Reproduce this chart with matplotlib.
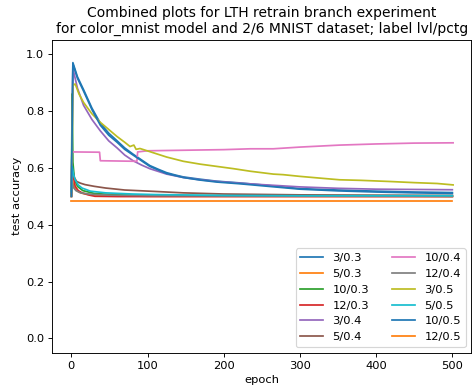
import matplotlib
matplotlib.use("Agg")
import matplotlib.pyplot as plt

labels = ["3/0.3", "5/0.3", "10/0.3", "12/0.3", "3/0.4", "5/0.4",
          "10/0.4", "12/0.4", "3/0.5", "5/0.5", "10/0.5", "12/0.5"]

ep_3_03 = [0, 2, 8, 16, 27, 38, 49, 60, 70, 81, 92, 103, 114, 125, 136, 147, 169, 191, 221, 250, 300, 350, 400, 450, 500]
acc_3_03 = [0.52, 0.97, 0.92, 0.875, 0.81, 0.757, 0.722, 0.695, 0.67, 0.648, 0.628, 0.608, 0.595, 0.583, 0.575, 0.568, 0.56, 0.553, 0.547, 0.54, 0.527, 0.522, 0.518, 0.515, 0.513]

ep_5_03 = [0, 1, 3, 6, 10, 15, 30, 60, 100, 500]
acc_5_03 = [0.5, 0.56, 0.535, 0.522, 0.515, 0.51, 0.505, 0.502, 0.5, 0.5]

ep_10_03 = [0, 1, 2, 4, 8, 15, 30, 60, 100, 200, 300, 400, 500]
acc_10_03 = [0.5, 0.86, 0.62, 0.56, 0.535, 0.52, 0.51, 0.505, 0.503, 0.502, 0.501, 0.501, 0.5]

ep_12_03 = [0, 1, 3, 5, 9, 14, 22, 31, 60, 100, 200, 500]
acc_12_03 = [0.5, 0.58, 0.564, 0.535, 0.52, 0.512, 0.505, 0.5, 0.499, 0.499, 0.499, 0.499]

ep_3_04 = [0, 2, 8, 16, 27, 38, 49, 60, 70, 81, 92, 103, 125, 147, 169, 191, 221, 250, 300, 350, 400, 450, 500]
acc_3_04 = [0.5, 0.95, 0.88, 0.82, 0.77, 0.73, 0.695, 0.67, 0.645, 0.625, 0.61, 0.597, 0.578, 0.566, 0.558, 0.552, 0.546, 0.541, 0.533, 0.528, 0.525, 0.524, 0.523]

ep_5_04 = [0, 1, 4, 7, 12, 18, 30, 45, 70, 110, 147, 200, 300, 400, 500]
acc_5_04 = [0.5, 0.6, 0.565, 0.552, 0.546, 0.541, 0.535, 0.529, 0.522, 0.517, 0.512, 0.508, 0.505, 0.504, 0.503]

ep_10_04 = [0, 1, 37, 38, 86, 87, 100, 150, 200, 235, 265, 300, 352, 400, 450, 501]
acc_10_04 = [0.5, 0.656, 0.655, 0.625, 0.623, 0.656, 0.66, 0.662, 0.664, 0.667, 0.667, 0.673, 0.68, 0.684, 0.687, 0.688]

ep_12_04 = [0, 1, 3, 6, 12, 25, 50, 100, 200, 500]
acc_12_04 = [0.5, 0.55, 0.53, 0.52, 0.512, 0.507, 0.504, 0.502, 0.501, 0.5]

ep_3_05 = [0, 2, 5, 10, 16, 27, 38, 49, 60, 70, 77, 82, 85, 90, 103, 125, 147, 169, 191, 213, 235, 265, 278, 300, 330, 352, 380, 418, 450, 480, 501]
acc_3_05 = [0.5, 0.89, 0.895, 0.86, 0.83, 0.79, 0.76, 0.735, 0.71, 0.69, 0.675, 0.68, 0.665, 0.668, 0.657, 0.638, 0.623, 0.613, 0.605, 0.597, 0.588, 0.578, 0.576, 0.57, 0.563, 0.558, 0.556, 0.552, 0.548, 0.545, 0.54]

ep_5_05 = [0, 1, 3, 5, 9, 14, 25, 45, 80, 110, 200, 300, 400, 500]
acc_5_05 = [0.517, 0.605, 0.575, 0.558, 0.54, 0.529, 0.518, 0.512, 0.508, 0.506, 0.503, 0.502, 0.502, 0.502]

ep_10_05 = [0, 2, 8, 16, 27, 38, 49, 60, 70, 81, 92, 103, 125, 147, 169, 191, 221, 250, 300, 350, 400, 450, 500]
acc_10_05 = [0.5, 0.965, 0.915, 0.87, 0.805, 0.75, 0.715, 0.69, 0.665, 0.645, 0.625, 0.605, 0.58, 0.566, 0.557, 0.55, 0.544, 0.537, 0.525, 0.519, 0.515, 0.512, 0.51]

ep_12_05 = [0, 500]
acc_12_05 = [0.482, 0.482]

series = [(ep_3_03, acc_3_03), (ep_5_03, acc_5_03), (ep_10_03, acc_10_03), (ep_12_03, acc_12_03),
          (ep_3_04, acc_3_04), (ep_5_04, acc_5_04), (ep_10_04, acc_10_04), (ep_12_04, acc_12_04),
          (ep_3_05, acc_3_05), (ep_5_05, acc_5_05), (ep_10_05, acc_10_05), (ep_12_05, acc_12_05)]
colors = ["tab:blue", "tab:orange", "tab:green", "tab:red", "tab:purple", "tab:brown",
          "tab:pink", "tab:gray", "tab:olive", "tab:cyan", "tab:blue", "tab:orange"]

W = 5.7
fig = plt.figure(figsize=(W, W * 391 / 473), dpi=473 / W)
ax = fig.add_axes([0.1106, 0.098, 0.886, 0.8])
for (e, a), c, lab in zip(series, colors, labels):
    ax.plot(e, a, color=c, label=lab)

ax.set_xlim(-25, 525)
ax.set_ylim(-0.05, 1.05)
ax.set_xlabel("epoch")
ax.set_ylabel("test accuracy")
ax.set_title("Combined plots for LTH retrain branch experiment\nfor color_mnist model and 2/6 MNIST dataset; label lvl/pctg")
ax.legend(loc="lower right", ncol=2)
fig.savefig("out.png", dpi=473 / W)
